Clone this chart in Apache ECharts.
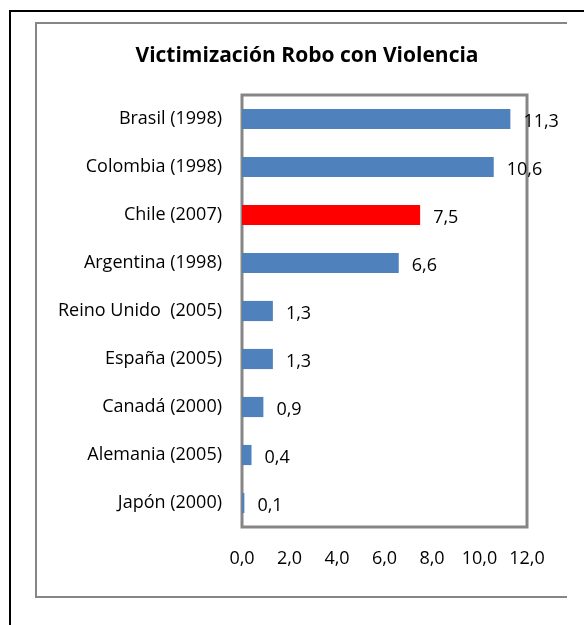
<!DOCTYPE html>
<html>
<head>
<meta charset="utf-8">
<script src="https://cdn.jsdelivr.net/npm/echarts@6/dist/echarts.min.js"></script>
<style>
  html, body { margin: 0; padding: 0; background: #fff; }
  #chart { width: 584px; height: 625px; }
</style>
</head>
<body>
<div id="chart"></div>
<script>
// datos del grafico
var paises = ["Brasil (1998)", "Colombia (1998)", "Chile (2007)", "Argentina (1998)",
  "Reino Unido  (2005)", "España (2005)", "Canadá (2000)", "Alemania (2005)", "Japón (2000)"];
var valores = [11.3, 10.6, 7.5, 6.6, 1.3, 1.3, 0.9, 0.4, 0.1];
var destacado = "Chile (2007)"; // barra en rojo
var ticksX = [0, 2, 4, 6, 8, 10, 12];

var fuente = "Open Sans";
var myChart = echarts.init(document.getElementById("chart"));

var datos = paises.map(function (p, i) {
  return {
    value: valores[i],
    itemStyle: { color: p === destacado ? "#ff0000" : "#4f81bd" }
  };
});

var option = {
  animation: false,
  backgroundColor: "#fff",
  title: {
    text: "Victimización Robo con Violencia",
    left: 302,
    textAlign: "center",
    top: 41,
    textStyle: { fontFamily: fuente, fontSize: 21, fontWeight: "bold", color: "#000" }
  },
  grid: {
    left: 242,
    top: 95,
    width: 285,
    height: 432,
    show: true,
    borderColor: "#868686",
    borderWidth: 3
  },
  xAxis: {
    type: "value",
    min: ticksX[0],
    max: ticksX[ticksX.length - 1],
    interval: 2,
    axisLine: { show: false },
    axisTick: { show: false },
    splitLine: { show: false },
    axisLabel: {
      margin: 23,
      fontFamily: fuente,
      fontSize: 18,
      color: "#000",
      formatter: function (v) { return v.toFixed(1).replace(".", ","); }
    }
  },
  yAxis: {
    type: "category",
    inverse: true,
    data: paises,
    axisLine: { show: false },
    axisTick: { show: false },
    axisLabel: { margin: 20, fontFamily: fuente, fontSize: 18, color: "#000" }
  },
  series: [{
    type: "bar",
    data: datos,
    barWidth: "42%",
    label: {
      show: true,
      position: "right",
      distance: 13,
      offset: [0, 3],
      fontFamily: fuente,
      fontSize: 18,
      color: "#000",
      formatter: function (p) { return p.value.toFixed(1).replace(".", ","); }
    }
  }],
  graphic: [
    // marco negro exterior
    { type: "polyline", silent: true, shape: { points: [[10, 625], [10, 11], [584, 11]] },
      style: { stroke: "#000", lineWidth: 2, fill: null } },
    // marco gris del area del grafico
    { type: "polyline", silent: true, shape: { points: [[567, 23], [36, 23], [36, 597], [567, 597]] },
      style: { stroke: "#868686", lineWidth: 2, fill: null } }
  ]
};
option && myChart.setOption(option);
</script>
</body>
</html>
